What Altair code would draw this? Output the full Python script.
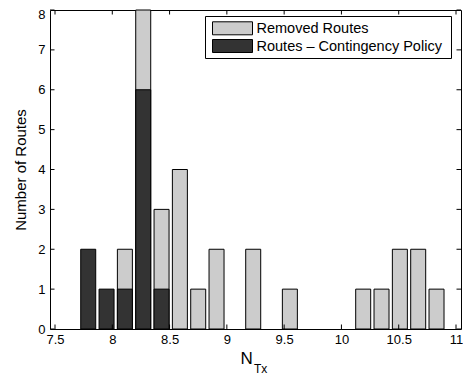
import altair as alt
import pandas as pd

# ---- data ----
bin_centers = [7.79, 7.95, 8.11, 8.27, 8.43, 8.59, 8.75, 8.91, 9.07, 9.23,
               9.39, 9.55, 9.71, 9.87, 10.03, 10.19, 10.35, 10.51, 10.67, 10.83]
removed_counts = [0, 0, 2, 8, 3, 4, 1, 2, 0, 2, 0, 1, 0, 0, 0, 1, 1, 2, 2, 1]
contingency_counts = [2, 1, 1, 6, 1, 0, 0, 0, 0, 0, 0, 0, 0, 0, 0, 0, 0, 0, 0, 0]
series_labels = ["Removed Routes", "Routes \u2013 Contingency Policy"]
series_colors = ["#cccccc", "#333333"]
x_ticks = [7.5, 8, 8.5, 9, 9.5, 10, 10.5, 11]
y_ticks = [0, 1, 2, 3, 4, 5, 6, 7, 8]
x_title_parts = ["N", "Tx"]
y_title = "Number of Routes"

W, H = 411, 319
FONT = "Liberation Sans"

removed_df = pd.DataFrame({"x": bin_centers, "count": removed_counts})
cont_df = pd.DataFrame({"x": bin_centers, "count": contingency_counts})
xt_df = pd.DataFrame({"tick": x_ticks})
yt_df = pd.DataFrame({"tick": y_ticks})

xscale = alt.Scale(domain=[7.5, 11], nice=False, zero=False)
yscale = alt.Scale(domain=[0, 8], nice=False)
xaxis = alt.Axis(values=x_ticks, format="~g", ticks=False, domain=False, grid=False,
                 labelPadding=4, labelFontSize=13, labelFont=FONT, labelColor="black",
                 title=None)
yaxis = alt.Axis(values=y_ticks, ticks=False, domain=False, grid=False,
                 labelPadding=5, labelFontSize=13, labelFont=FONT, labelColor="black",
                 labelOffset={"condition": {"test": "datum.value == 8", "value": 4.5}, "value": 0},
                 title=y_title, titleFont=FONT, titleFontSize=15, titleFontWeight="normal",
                 titleColor="black", titlePadding=9)


def bars(df, color):
    return alt.Chart(df).transform_filter("datum.count > 0").mark_bar(
        size=15, fill=color, stroke="black", strokeWidth=1
    ).encode(
        x=alt.X("x:Q", scale=xscale, axis=xaxis),
        y=alt.Y("count:Q", scale=yscale, axis=yaxis),
    )


light = bars(removed_df, series_colors[0])
dark = bars(cont_df, series_colors[1])

TL = 4.5
xt_bottom = alt.Chart(xt_df).mark_rule(color="black", strokeWidth=1).encode(
    x=alt.X("tick:Q", scale=xscale, axis=xaxis), y=alt.value(H), y2=alt.value(H - TL))
xt_top = alt.Chart(xt_df).mark_rule(color="black", strokeWidth=1).encode(
    x=alt.X("tick:Q", scale=xscale, axis=xaxis), y=alt.value(0), y2=alt.value(TL))
yt_left = alt.Chart(yt_df).mark_rule(color="black", strokeWidth=1).encode(
    y=alt.Y("tick:Q", scale=yscale, axis=yaxis), x=alt.value(0), x2=alt.value(TL))
yt_right = alt.Chart(yt_df).mark_rule(color="black", strokeWidth=1).encode(
    y=alt.Y("tick:Q", scale=yscale, axis=yaxis), x=alt.value(W), x2=alt.value(W - TL))

# x title with subscript
one = pd.DataFrame({"n": [x_title_parts[0]], "s": [x_title_parts[1]]})
title_n = alt.Chart(one).mark_text(font=FONT, fontSize=17, align="left",
                                   baseline="alphabetic", color="black").encode(
    text="n:N", x=alt.value(190.5), y=alt.value(354))
title_s = alt.Chart(one).mark_text(font=FONT, fontSize=12, align="left",
                                   baseline="alphabetic", color="black").encode(
    text="s:N", x=alt.value(204), y=alt.value(363))

# legend (inside top-right)
leg_box = alt.Chart(one).mark_rect(fill="white", stroke="black", strokeWidth=1).encode(
    x=alt.value(155.5), x2=alt.value(401.5), y=alt.value(6.5), y2=alt.value(48.5))
legend_layers = [leg_box]
row_y = [18.3, 36.0]
for i in range(2):
    ldf = pd.DataFrame({"label": [series_labels[i]]})
    legend_layers.append(alt.Chart(ldf).mark_rect(
        fill=series_colors[i], stroke="black", strokeWidth=1).encode(
        x=alt.value(162.5), x2=alt.value(202.5),
        y=alt.value(row_y[i] - 6.5), y2=alt.value(row_y[i] + 6.5)))
    legend_layers.append(alt.Chart(ldf).mark_text(
        font=FONT, fontSize=14.5, align="left", baseline="middle", color="black").encode(
        text="label:N", x=alt.value(206.5), y=alt.value(row_y[i] + 0.5)))

chart = alt.layer(
    light, dark, xt_bottom, xt_top, yt_left, yt_right, title_n, title_s, *legend_layers
).properties(
    width=W, height=H,
    autosize=alt.AutoSizeParams(type="none"),
    padding={"left": 42, "top": 2, "right": 2, "bottom": 52},
    background="white",
).configure_view(stroke="black", strokeWidth=1)

chart.save("out.html", embed_options={"renderer": "svg", "actions": False})
